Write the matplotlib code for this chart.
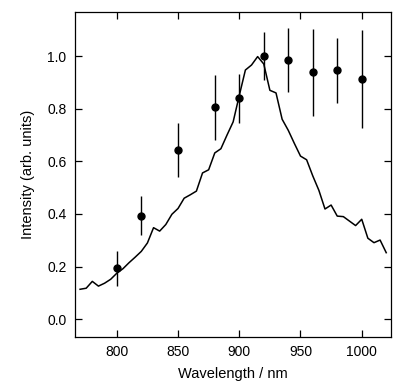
import matplotlib
matplotlib.use("Agg")
import matplotlib.pyplot as plt

# spectrum (solid line)
spec_wl = [770, 775, 780, 785, 790, 795, 800, 805, 810, 815, 820, 825, 830,
           835, 840, 845, 850, 855, 860, 865, 870, 875, 880, 885, 890, 895,
           900, 905, 910, 915, 920, 925, 930, 935, 940, 945, 950, 955, 960,
           965, 970, 975, 980, 985, 990, 995, 1000, 1005, 1010, 1015, 1020]
spec_int = [0.114, 0.118, 0.144, 0.126, 0.137, 0.152, 0.175, 0.192, 0.215,
            0.236, 0.258, 0.290, 0.348, 0.335, 0.360, 0.399, 0.421, 0.460,
            0.473, 0.487, 0.556, 0.568, 0.632, 0.648, 0.700, 0.750, 0.850,
            0.947, 0.966, 0.998, 0.970, 0.870, 0.860, 0.760, 0.718, 0.668,
            0.620, 0.606, 0.545, 0.490, 0.419, 0.434, 0.392, 0.390, 0.373,
            0.356, 0.380, 0.308, 0.291, 0.301, 0.253]

# measured points with error bars
pt_wl = [800, 820, 850, 880, 900, 920, 940, 960, 980, 1000]
pt_int = [0.194, 0.394, 0.642, 0.805, 0.839, 1.000, 0.985, 0.938, 0.946, 0.914]
pt_hi = [0.260, 0.468, 0.744, 0.927, 0.932, 1.090, 1.105, 1.104, 1.070, 1.099]
pt_lo = [0.126, 0.320, 0.542, 0.681, 0.747, 0.911, 0.863, 0.771, 0.821, 0.728]

plt.rcParams["font.family"] = ["Liberation Sans", "DejaVu Sans"]

fig = plt.figure(figsize=(4.0, 3.91), dpi=100)
ax = fig.add_axes([0.187, 0.139, 0.7905, 0.830])

ax.plot(spec_wl, spec_int, color="black", linewidth=1.1)

yerr = [[v - lo for v, lo in zip(pt_int, pt_lo)],
        [hi - v for v, hi in zip(pt_int, pt_hi)]]
ax.errorbar(pt_wl, pt_int, yerr=yerr, fmt="o", color="black",
            markersize=5, elinewidth=1.0, capsize=0)

ax.set_xlim(765.7, 1023.9)
ax.set_ylim(-0.066, 1.167)
ax.set_xticks([800, 850, 900, 950, 1000])
ax.set_yticks([0.0, 0.2, 0.4, 0.6, 0.8, 1.0])
ax.set_yticklabels(["0.0", "0.2", "0.4", "0.6", "0.8", "1.0"])
ax.tick_params(direction="in", top=True, right=True, length=5, width=0.9,
               labelsize=10, pad=6)
for s in ax.spines.values():
    s.set_linewidth(0.9)

ax.set_xlabel("Wavelength / nm", fontsize=10.5, labelpad=6)
ax.set_ylabel("Intensity (arb. units)", fontsize=10.5, labelpad=9)

fig.savefig("out.png", dpi=100)
